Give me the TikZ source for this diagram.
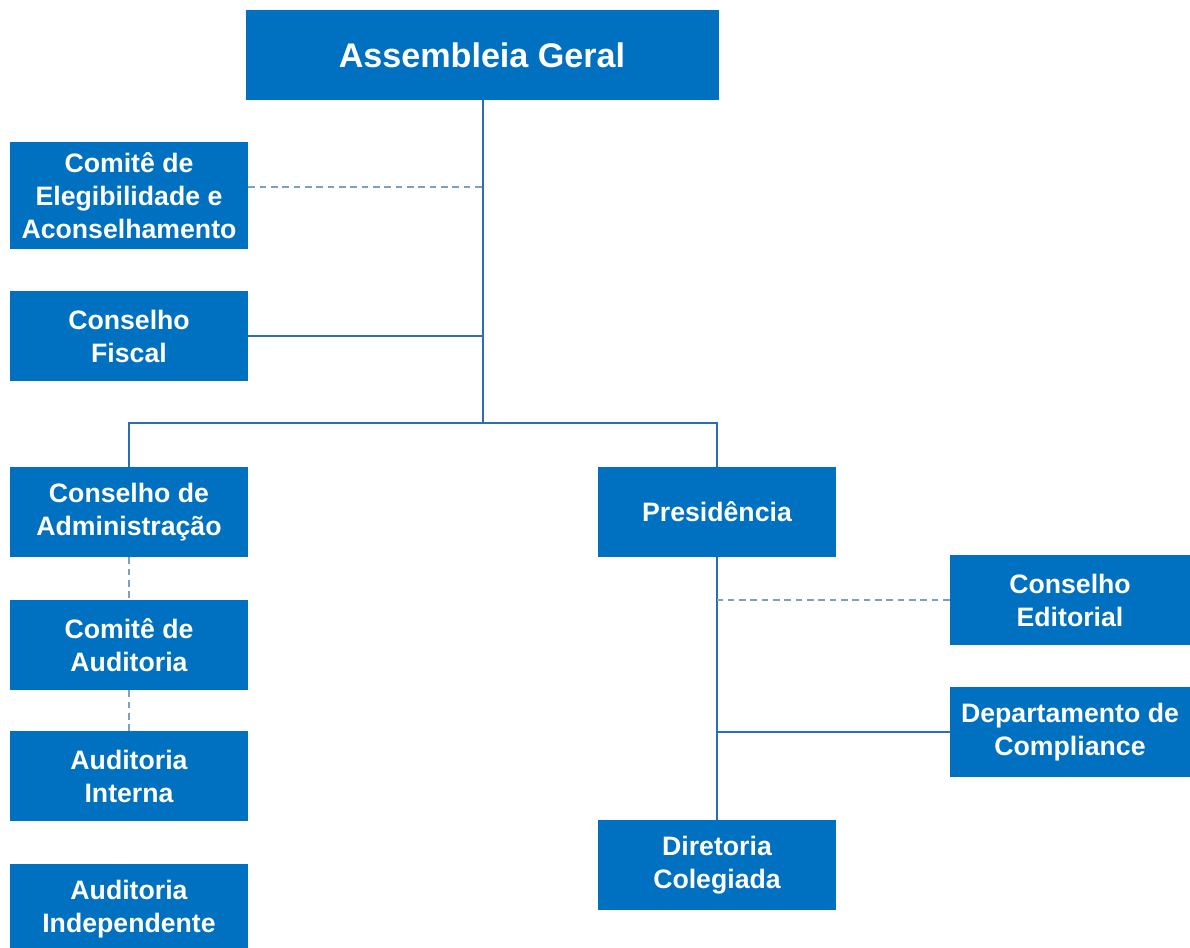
\documentclass[tikz,border=0pt]{standalone}
\usepackage{fontspec}
\setmainfont{Liberation Sans}
\definecolor{boxblue}{HTML}{0070C0}
\definecolor{linkblue}{HTML}{2A6FB2}
\definecolor{dashblue}{HTML}{7F9FC0}
\begin{document}
\begin{tikzpicture}[x=0.75pt,y=-0.75pt,
  box/.style={fill=boxblue,text=white,align=center,inner sep=0pt,
    font=\bfseries\fontsize{20}{24.75}\selectfont,
    minimum width=178.5pt,minimum height=67.5pt},
  solidlink/.style={draw=linkblue,line width=1.5pt},
  dashlink/.style={draw=dashblue,line width=1.5pt,dash pattern=on 5pt off 3.5pt}]
\useasboundingbox (0,0) rectangle (1190,948);
\node[box,minimum width=354.75pt,font=\bfseries\fontsize{25.6}{30}\selectfont] (ag) at (482,55) {Assembleia Geral};
\node[box,minimum height=80.25pt] (ce) at (129,195.5) {Comitê de\\Elegibilidade e\\Aconselhamento};
\node[box] (cf) at (129,336) {Conselho\\Fiscal};
\node[box] (ca) at (129,512) {Conselho de\\Administração};
\node[box] (cau) at (129,645) {Comitê de\\Auditoria};
\node[box] (ai) at (129,776) {Auditoria\\Interna};
\node[box] (aind) at (129,909) {Auditoria\\Independente};
\node[box] (pr) at (717,512) {Presidência};
\node[box,minimum width=180pt] (ed) at (1070,600.5) {Conselho\\Editorial};
\node[box,minimum width=180pt] (dc) at (1070,732) {Departamento de\\Compliance};
\node[box] (dir) at (717,865) {Diretoria\\Colegiada};
\coordinate (j) at (483,423);
\coordinate (ceo) at ([yshift=6.4pt]ce.east);
\draw[solidlink] (ag.south -| j) -- (j);
\draw[dashlink] (ceo) -- (ceo -| j);
\draw[solidlink] (cf.east) -- (cf.east -| j);
\draw[solidlink] (ca.north) |- (j) -| (pr.north);
\draw[dashlink] (ca.south) -- (cau.north);
\draw[dashlink] (cau.south) -- (ai.north);
\draw[solidlink] (pr.south) -- (dir.north);
\draw[dashlink] (ed.west) -- (ed.west -| pr.south);
\draw[solidlink] (dc.west) -- (dc.west -| pr.south);
\end{tikzpicture}
\end{document}
